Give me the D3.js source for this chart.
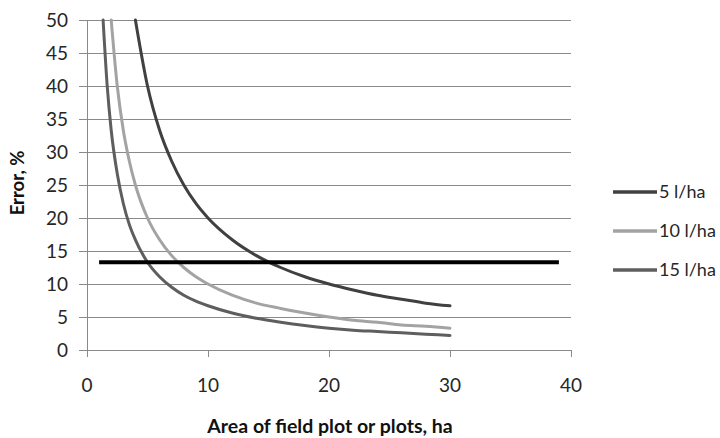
<!DOCTYPE html>
<html>
<head>
<meta charset="utf-8">
<script src="https://cdn.jsdelivr.net/npm/d3@7"></script>
<style>
  body { margin: 0; background: #fff; }
  svg { display: block; font-family: Lato, 'Open Sans', sans-serif; }
</style>
</head>
<body>
<div id="chart"></div>
<script>
// Values
const area5 = [4, 5, 6, 7, 8, 9, 10, 12, 14, 16, 18, 20, 22, 24, 26, 28, 30];
const err5 = [50, 40, 33.3, 28.6, 25, 22.2, 20, 16.7, 14.3, 12.5, 11.1, 10, 9.1, 8.3, 7.7, 7.1, 6.7];

const area10 = [2, 2.5, 3, 3.5, 4, 5, 6, 7, 8, 9, 10, 12, 14, 16, 18, 20, 22, 24, 26, 28, 30];
const err10 = [50, 40, 33.3, 28.6, 25, 20, 16.7, 14.3, 12.5, 11.1, 10, 8.3, 7.1, 6.3, 5.6, 5, 4.5, 4.2, 3.8, 3.6, 3.3];

const area15 = [1.33, 1.67, 2, 2.5, 3, 3.5, 4, 5, 6, 7, 8, 9, 10, 12, 14, 16, 18, 20, 22, 24, 26, 28, 30];
const err15 = [50, 40, 33.3, 26.7, 22.2, 19, 16.7, 13.3, 11.1, 9.5, 8.3, 7.4, 6.7, 5.6, 4.8, 4.2, 3.7, 3.3, 3, 2.8, 2.6, 2.4, 2.2];

const limitArea = [1, 39];
const limitErr = [13.3, 13.3];

const seriesNames = ['5 l/ha', '10 l/ha', '15 l/ha'];
const seriesColors = ['#404040', '#a3a3a3', '#5e5e5e'];

const xTicks = [0, 10, 20, 30, 40];
const yTicks = [0, 5, 10, 15, 20, 25, 30, 35, 40, 45, 50];

const W = 720, H = 438;
const margin = { top: 20, right: 149, bottom: 88, left: 87 };
const width = W - margin.left - margin.right;
const height = H - margin.top - margin.bottom;

const svg = d3.select('#chart').append('svg')
  .attr('width', W).attr('height', H);
const g = svg.append('g').attr('transform', `translate(${margin.left},${margin.top})`);

const x = d3.scaleLinear().domain([0, 40]).range([0, width]);
const y = d3.scaleLinear().domain([0, 50]).range([height, 0]);

const gridColor = '#8a8a8a';

// Gridlines (extend left over the tick marks like Excel)
g.selectAll('.grid')
  .data(yTicks)
  .enter()
  .append('line')
  .attr('x1', -8).attr('x2', width)
  .attr('y1', (d) => Math.round(y(d)) + 0.5).attr('y2', (d) => Math.round(y(d)) + 0.5)
  .attr('stroke', gridColor)
  .attr('stroke-width', 1);

// Y axis line
g.append('line')
  .attr('x1', 0.5).attr('x2', 0.5)
  .attr('y1', 0).attr('y2', height)
  .attr('stroke', gridColor);

// X axis ticks
g.selectAll('.xtick')
  .data(xTicks)
  .enter()
  .append('line')
  .attr('x1', (d) => Math.round(x(d)) + 0.5).attr('x2', (d) => Math.round(x(d)) + 0.5)
  .attr('y1', height).attr('y2', height + 7)
  .attr('stroke', gridColor);

// Tick labels
g.selectAll('.ylab')
  .data(yTicks)
  .enter()
  .append('text')
  .attr('x', -19)
  .attr('y', (d) => y(d))
  .attr('dy', '0.35em')
  .attr('text-anchor', 'end')
  .attr('font-size', 19)
  .attr('fill', '#262626')
  .text((d) => d);

g.selectAll('.xlab')
  .data(xTicks)
  .enter()
  .append('text')
  .attr('x', (d) => x(d))
  .attr('y', height + 35)
  .attr('dy', '0.35em')
  .attr('text-anchor', 'middle')
  .attr('font-size', 19)
  .attr('fill', '#262626')
  .text((d) => d);

// Curves
const line = d3.line()
  .x((d) => x(d[0]))
  .y((d) => y(d[1]))
  .curve(d3.curveMonotoneX);

const series = [
  d3.zip(area5, err5),
  d3.zip(area10, err10),
  d3.zip(area15, err15),
];

g.selectAll('.curve')
  .data(series)
  .enter()
  .append('path')
  .attr('d', line)
  .attr('fill', 'none')
  .attr('stroke', (d, i) => seriesColors[i])
  .attr('stroke-width', 3)
  .attr('stroke-linecap', 'round')
  .attr('stroke-linejoin', 'round');

// Horizontal limit line
g.append('path')
  .datum(d3.zip(limitArea, limitErr))
  .attr('d', d3.line().x((d) => x(d[0])).y((d) => y(d[1])))
  .attr('fill', 'none')
  .attr('stroke', '#000')
  .attr('stroke-width', 4);

// Axis titles
svg.append('text')
  .attr('transform', `translate(24,${183}) rotate(-90)`)
  .attr('text-anchor', 'middle')
  .attr('font-size', 18.5)
  .attr('font-weight', 'bold')
  .attr('fill', '#111')
  .text('Error, %');

svg.append('text')
  .attr('x', 330)
  .attr('y', 433)
  .attr('text-anchor', 'middle')
  .attr('font-size', 19.5)
  .attr('font-weight', 'bold')
  .attr('fill', '#111')
  .text('Area of field plot or plots, ha');

// Legend
const legend = svg.append('g').attr('transform', 'translate(613,192)');
const items = legend.selectAll('.item')
  .data(seriesNames)
  .enter()
  .append('g')
  .attr('transform', (d, i) => `translate(0,${i * 39})`);
items.append('line')
  .attr('x1', 0).attr('x2', 44)
  .attr('stroke', (d, i) => seriesColors[i])
  .attr('stroke-width', 3.5);
items.append('text')
  .attr('x', 46)
  .attr('dy', '0.35em')
  .attr('font-size', 18)
  .attr('fill', '#262626')
  .text((d) => d);
</script>
</body>
</html>
